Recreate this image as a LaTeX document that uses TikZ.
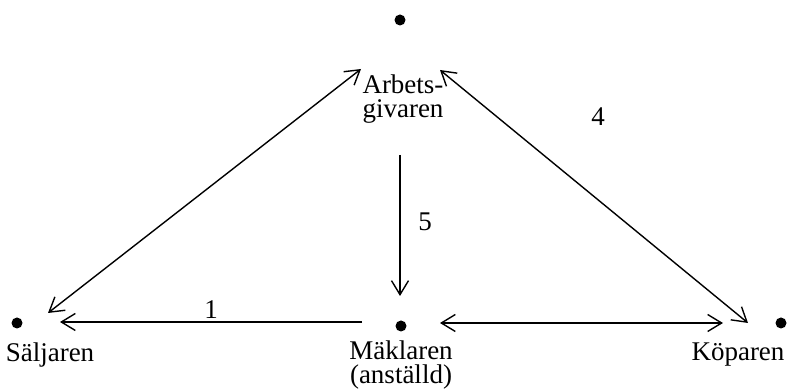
\documentclass[tikz,border=0pt]{standalone}
\usepackage{fontspec}
\setmainfont{Liberation Serif}
\usetikzlibrary{arrows.meta,positioning}

\begin{document}
\begin{tikzpicture}[
    x=0.5pt, y=-0.5pt,
    party/.style={circle, fill=black, inner sep=0pt, minimum size=5.5pt},
    who/.style={align=center, font=\fontsize{13.5}{11}\selectfont, inner sep=0pt},
    num/.style={font=\fontsize{13.5}{11}\selectfont, inner sep=0pt},
    arrow/.style={{Straight Barb[length=7pt, width=8.5pt]}-{Straight Barb[length=7pt, width=8.5pt]}, line width=0.7pt},
    oneway/.style={-{Straight Barb[length=7pt, width=8.5pt]}, line width=0.7pt}
]
\useasboundingbox (0,0) rectangle (789,389);

\node[party] (arb) at (400,20) {};
\node[party] (salj) at (17,323) {};
\node[party] (mak) at (401,326) {};
\node[party] (kop) at (781,323) {};

\node[who] (arbtxt) at (403,99) {Arbets-\\[1pt]givaren};
\node[who] (saljtxt) at (50,355) {Säljaren};
\node[who] (maktxt) at (401,365) {Mäklaren\\[1pt](anställd)};
\node[who] (koptxt) at (738,355) {Köparen};

\coordinate (a1) at (361,69);
\coordinate (a2) at (48,313);
\coordinate (b1) at (440,70);
\coordinate (b2) at (748,323);
\coordinate (c1) at (400,155);
\coordinate (c2) at (400,296);
\coordinate (d1) at (362,322);
\coordinate (d2) at (60,322);
\coordinate (e1) at (440,323);
\coordinate (e2) at (723,323);

\draw[arrow] (a1) -- (a2);
\draw[arrow] (b1) -- (b2);
\draw[oneway] (c1) -- (c2);
\draw[oneway] (d1) -- (d2);
\draw[arrow] (e1) -- (e2);

\node[num] (n1) at (211,310) {1};
\node[num] (n4) at (598,117) {4};
\node[num] (n5) at (425,222) {5};
\end{tikzpicture}
\end{document}
